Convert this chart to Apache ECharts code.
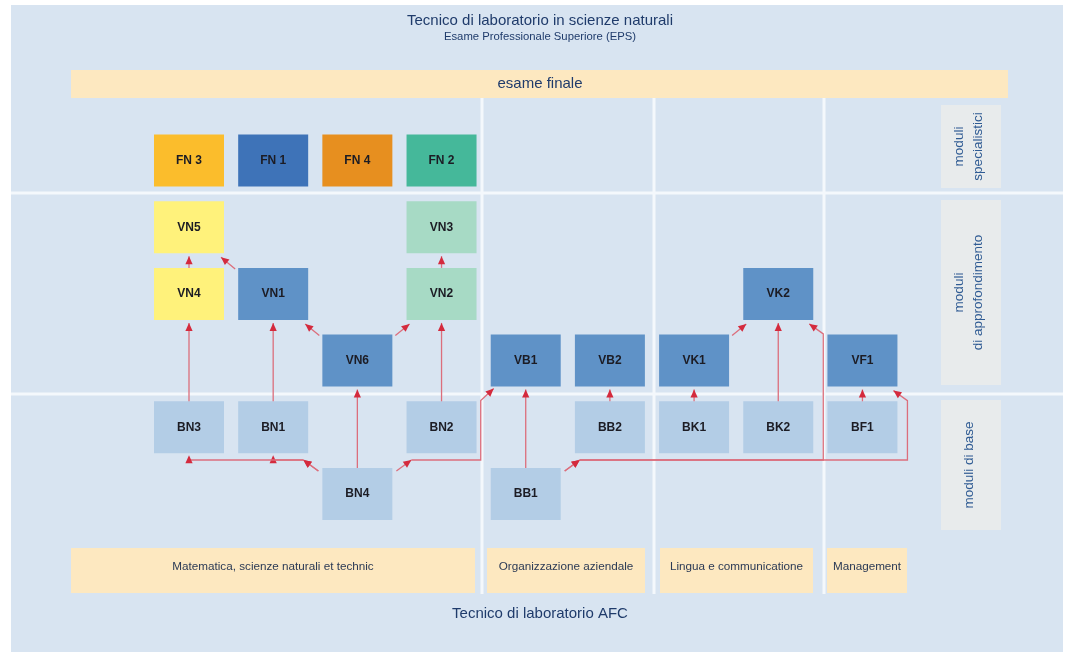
<!DOCTYPE html>
<html>
<head>
<meta charset="utf-8">
<script src="https://cdn.jsdelivr.net/npm/echarts@6/dist/echarts.min.js"></script>
<style>
html,body{margin:0;padding:0;background:#ffffff;}
#chart{width:1068px;height:652px;}
</style>
</head>
<body>
<div id="chart"></div>
<script>
// ---------- data ----------
const titleText = 'Tecnico di laboratorio in scienze naturali';
const subtitleText = 'Esame Professionale Superiore (EPS)';
const finalExamText = 'esame finale';
const footerText = 'Tecnico di laboratorio AFC';
const levelLabels = ['moduli\nspecialistici', 'moduli\ndi approfondimento', 'moduli di base'];
const areaLabels = ['Matematica, scienze naturali et technic', 'Organizzazione aziendale', 'Lingua e communicatione', 'Management'];

const modules   = ['FN 3','FN 1','FN 4','FN 2','VN5','VN3','VN4','VN1','VN2','VN6','VB1','VB2','VK1','VK2','VF1','BN3','BN1','BN2','BB2','BK1','BK2','BF1','BN4','BB1'];
const moduleCol = [0,1,2,3, 0,3, 0,1,3, 2,4,5,6,7,8, 0,1,3,5,6,7,8, 2,4];
const moduleRow = [0,0,0,0, 1,1, 2,2,2, 3,3,3,3,2,3, 4,4,4,4,4,4,4, 5,5];
const moduleKind = ['fn3','fn1','fn4','fn2','vy','vg','vy','vb','vg','vb','vb','vb','vb','vb','vb','b','b','b','b','b','b','b','b','b'];

const edgeFrom  = ['BN3','BN1','BN4','BN2','VN4','VN2','BB1','BB2','BK1','BK2','BF1','VN1','VN6','VN6','VK1','BN4','BN4','BN4','BB1','BB1'];
const edgeTo    = ['VN4','VN1','VN6','VN2','VN5','VN3','VB1','VB2','VK1','VK2','VF1','VN5','VN1','VN2','VK2','BN1','BN3','VB1','VK2','VF1'];
const edgeRoute = ['up','up','up','up','up','up','up','up','up','up','up','diag','diag','diag','diag','bus','bus','bus','bus','bus'];
const edgeSide  = ['','','','','','','','','','','','','','','','','','left','right','right'];

// ---------- layout / style ----------
const W = 1068, H = 652;
const COL0 = 189, COLSTEP = 84.18, ROW0 = 160.5, ROWSTEP = 66.7;
const BW = 70, BH = 52;
const kindColor = {fn3:'#fbbd2c', fn1:'#3e73b8', fn4:'#e78f1f', fn2:'#45b89a', vy:'#fff27b', vg:'#a7dac5', vb:'#5f92c7', b:'#b3cde6'};
const LINE = '#dc6e7c', HEAD = '#d42a3d';
const FONT = '"Liberation Sans", Arial, sans-serif';

const idxOf = {};
modules.forEach((m, i) => idxOf[m] = i);

const chart = echarts.init(document.getElementById('chart'), null, {renderer: 'canvas'});

function boxGeom(api, name) {
  const i = idxOf[name];
  const c = api.coord([moduleCol[i], moduleRow[i]]);
  return {cx: c[0], cy: c[1], left: c[0] - BW/2, right: c[0] + BW/2, top: c[1] - BH/2, bottom: c[1] + BH/2, row: moduleRow[i]};
}
function head(tip, from) {
  const dx = tip[0] - from[0], dy = tip[1] - from[1];
  const len = Math.sqrt(dx*dx + dy*dy) || 1;
  const ux = dx/len, uy = dy/len, L = 8, w = 3.6;
  const bx = tip[0] - ux*L, by = tip[1] - uy*L;
  return {type:'polygon', shape:{points:[tip, [bx - uy*w, by + ux*w], [bx + uy*w, by - ux*w]]}, style:{fill: HEAD}};
}
function seg(points) {
  return {type:'polyline', shape:{points: points}, style:{stroke: LINE, lineWidth: 1.3, fill: null}};
}

// frame graphics
const g = [];
g.push({type:'rect', shape:{x:11, y:5, width:1052, height:647}, style:{fill:'#d8e4f1'}, z:0});
g.push({type:'rect', shape:{x:71, y:70, width:937, height:28}, style:{fill:'#fde8c0'}, z:1});
[193, 394].forEach(y => g.push({type:'rect', shape:{x:11, y:y-1.5, width:1052, height:3}, style:{fill:'#f4f8fc'}, z:1}));
[482, 654, 824].forEach(x => g.push({type:'rect', shape:{x:x-1.5, y:98, width:3, height:496}, style:{fill:'#f4f8fc'}, z:1}));
const lvlBoxes = [[105,188],[200,385],[400,530]];
lvlBoxes.forEach((b, i) => {
  g.push({type:'rect', shape:{x:941, y:b[0], width:60, height:b[1]-b[0]}, style:{fill:'#e8ebec'}, z:1});
  g.push({type:'text', x:969, y:(b[0]+b[1])/2, rotation:Math.PI/2, z:2,
    style:{text: levelLabels[i], align:'center', verticalAlign:'middle', font:'13.5px ' + FONT, fill:'#2f5b93', lineHeight:19}});
});
const areaBars = [[71,475],[487,645],[660,813],[827,907]];
areaBars.forEach((b, i) => {
  g.push({type:'rect', shape:{x:b[0], y:548, width:b[1]-b[0], height:45}, style:{fill:'#fde8c0'}, z:1});
  g.push({type:'text', x:(b[0]+b[1])/2, y:567, z:2,
    style:{text: areaLabels[i], align:'center', verticalAlign:'middle', font:'11.7px ' + FONT, fill:'#2b3a55'}});
});
g.push({type:'text', x:540, y:21, z:2, style:{text:titleText, align:'center', verticalAlign:'middle', font:'15px ' + FONT, fill:'#1f3b6b'}});
g.push({type:'text', x:540, y:37, z:2, style:{text:subtitleText, align:'center', verticalAlign:'middle', font:'11.3px ' + FONT, fill:'#1f3b6b'}});
g.push({type:'text', x:540, y:84, z:2, style:{text:finalExamText, align:'center', verticalAlign:'middle', font:'15px ' + FONT, fill:'#1f3b6b'}});
g.push({type:'text', x:540, y:614, z:2, style:{text:footerText, align:'center', verticalAlign:'middle', font:'15px ' + FONT, fill:'#1f3b6b'}});

const option = {
  animation: false,
  backgroundColor: '#ffffff',
  grid: {left:0, right:0, top:0, bottom:0},
  xAxis: {type:'value', show:false, min: -COL0/COLSTEP, max: (W-COL0)/COLSTEP},
  yAxis: {type:'value', show:false, inverse:true, min: -ROW0/ROWSTEP, max: (H-ROW0)/ROWSTEP},
  graphic: {elements: g},
  series: [
    {
      type:'custom', coordinateSystem:'cartesian2d', z:5, silent:true,
      data: modules.map((m, i) => [moduleCol[i], moduleRow[i], i]),
      renderItem: function (params, api) {
        const i = api.value(2);
        const c = api.coord([api.value(0), api.value(1)]);
        return {type:'group', children:[
          {type:'rect', shape:{x:c[0]-BW/2, y:c[1]-BH/2, width:BW, height:BH}, style:{fill: kindColor[moduleKind[i]]}},
          {type:'text', style:{text: modules[i], x:c[0], y:c[1], align:'center', verticalAlign:'middle', font:'bold 12px ' + FONT, fill:'#1c1c24'}}
        ]};
      }
    },
    {
      type:'custom', coordinateSystem:'cartesian2d', z:6, silent:true,
      data: edgeFrom.map((f, i) => [0, 0, i]),
      renderItem: function (params, api) {
        const i = api.value(2);
        const S = boxGeom(api, edgeFrom[i]), T = boxGeom(api, edgeTo[i]);
        const kids = [];
        const route = edgeRoute[i];
        if (route === 'up') {
          const a = [S.cx, S.top], tip = [T.cx, T.bottom + 3];
          kids.push(seg([a, tip])); kids.push(head(tip, a));
        } else if (route === 'diag') {
          const sg = T.cx < S.cx ? -1 : 1;
          const a = [S.cx + sg*(BW/2 + 3), S.top + 1];
          const tip = [T.cx - sg*(BW/2 - 3), T.bottom + 4];
          kids.push(seg([a, tip])); kids.push(head(tip, a));
        } else {
          const sg = T.cx < S.cx ? -1 : 1;
          const busY = S.top - 8;
          const a = [S.cx + sg*(BW/2 + 4), S.top + 3];
          const dt = [S.cx + sg*(BW/2 + 19), busY];
          kids.push(seg([a, dt])); kids.push(head(dt, a));
          if (T.row === S.row - 1) {
            const tip = [T.cx, T.bottom + 2];
            kids.push(seg([dt, [T.cx, busY]]));
            kids.push(head(tip, [T.cx, busY + 8]));
          } else {
            const side = edgeSide[i];
            const xv = side === 'left' ? T.left - 10 : T.right + 10;
            const vt = [xv, T.bottom + 14];
            const tip = side === 'left' ? [T.left + 3, T.bottom + 2] : [T.right - 4, T.bottom + 4];
            kids.push(seg([dt, [xv, busY], vt, tip]));
            kids.push(head(tip, vt));
          }
        }
        return {type:'group', children: kids};
      }
    }
  ]
};
chart.setOption(option);
</script>
</body>
</html>
